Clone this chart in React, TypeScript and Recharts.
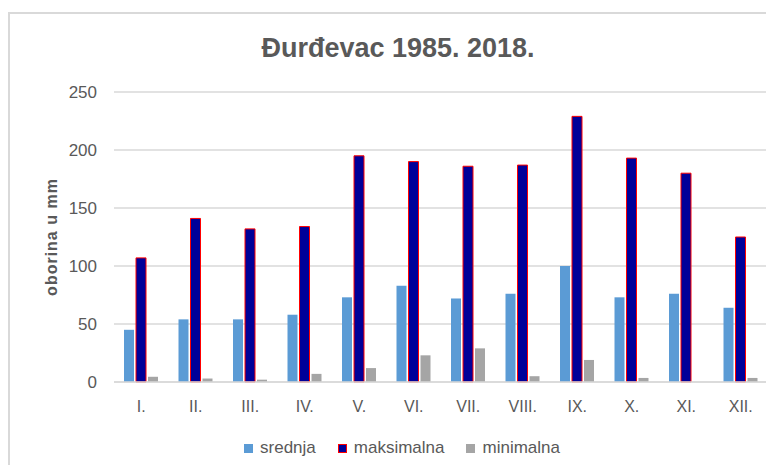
import React from 'react';
import { BarChart, Bar, XAxis, YAxis, CartesianGrid, Legend, Label } from 'recharts';

const months = ['I.', 'II.', 'III.', 'IV.', 'V.', 'VI.', 'VII.', 'VIII.', 'IX.', 'X.', 'XI.', 'XII.'];
const srednja = [45, 54, 54, 58, 73, 83, 72, 76, 100, 73, 76, 64];
const maksimalna = [107, 141, 132, 134, 195, 190, 186, 187, 229, 193, 180, 125];
const minimalna = [4.5, 3, 2, 7, 12, 23, 29, 5, 19, 3.5, 0, 3.5];
const yTicks = [0, 50, 100, 150, 200, 250];

const data = months.map((m, i) => ({
  name: m,
  srednja: srednja[i],
  maksimalna: maksimalna[i],
  minimalna: minimalna[i],
}));

const textColor = '#595959';
const font = '"Liberation Sans", Arial, sans-serif';

const legendItems = [
  { key: 'srednja', fill: '#5B9BD5', stroke: 'none' },
  { key: 'maksimalna', fill: '#000099', stroke: '#FF0000' },
  { key: 'minimalna', fill: '#A5A5A5', stroke: 'none' },
];

const renderLegend = () => (
  <div style={{ display: 'flex', justifyContent: 'center', alignItems: 'center', gap: 22 }}>
    {legendItems.map((it) => (
      <div key={it.key} style={{ display: 'flex', alignItems: 'center' }}>
        <span
          style={{
            display: 'inline-block',
            width: 9,
            height: 9,
            background: it.fill,
            boxSizing: 'border-box',
            border: it.stroke === 'none' ? 'none' : `1px solid ${it.stroke}`,
            marginRight: 7,
          }}
        />
        <span style={{ color: textColor, fontSize: 17, fontFamily: font }}>{it.key}</span>
      </div>
    ))}
  </div>
);

export default function App() {
  return (
    <div style={{ position: 'absolute', left: 0, top: 0, width: 766, height: 465, overflow: 'hidden', background: '#fff' }}>
      <div
        style={{
          position: 'absolute',
          left: 8,
          top: 12,
          width: 800,
          height: 500,
          borderTop: '2px solid #D9D9D9',
          borderLeft: '2px solid #D9D9D9',
        }}
      />
      <div
        style={{
          position: 'absolute',
          left: 0,
          width: 796,
          top: 33,
          textAlign: 'center',
          fontFamily: font,
          fontWeight: 'bold',
          fontSize: 27,
          color: textColor,
        }}
      >
        Đurđevac 1985. 2018.
      </div>
      <div style={{ position: 'absolute', left: 0, top: 0 }}>
        <BarChart
          width={780}
          height={465}
          data={data}
          margin={{ top: 92, right: 12, bottom: 33, left: 0 }}
          barSize={10}
          barGap={2}
        >
          <CartesianGrid vertical={false} stroke="#D9D9D9" strokeWidth={1.5} />
          <XAxis
            dataKey="name"
            axisLine={{ stroke: '#D9D9D9', strokeWidth: 1.5 }}
            tickLine={false}
            tickSize={0}
            tickMargin={19}
            interval={0}
            tick={{ fill: textColor, fontSize: 16, fontFamily: font }}
          />
          <YAxis
            width={114}
            domain={[0, 250]}
            ticks={yTicks}
            axisLine={false}
            tickLine={false}
            tickSize={0}
            tickMargin={17}
            tick={{ fill: textColor, fontSize: 17, fontFamily: font }}
          >
            <Label
              value="oborina u mm"
              angle={-90}
              position="insideLeft"
              offset={51}
              style={{ fill: textColor, fontSize: 16, fontWeight: 'bold', fontFamily: font, letterSpacing: 1, textAnchor: 'middle' }}
            />
          </YAxis>
          <Legend
            content={renderLegend}
            wrapperStyle={{ position: 'absolute', left: 0, top: 438, width: 804 }}
          />
          <Bar dataKey="srednja" fill="#5B9BD5" isAnimationActive={false} />
          <Bar dataKey="maksimalna" fill="#000099" stroke="#FF0000" strokeWidth={1} isAnimationActive={false} />
          <Bar dataKey="minimalna" fill="#A5A5A5" isAnimationActive={false} />
        </BarChart>
      </div>
    </div>
  );
}
